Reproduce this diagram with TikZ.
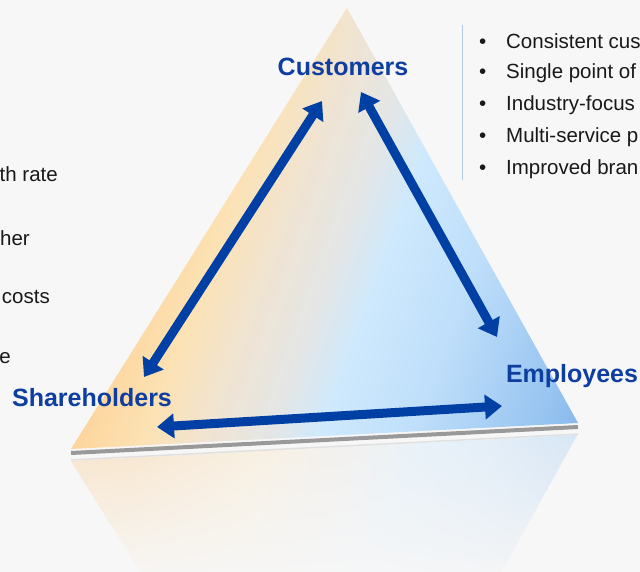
\documentclass[tikz,border=0pt]{standalone}
\usepackage{fontspec}
\setmainfont{Liberation Sans}
\usetikzlibrary{arrows.meta,calc,positioning,fadings}
\definecolor{pagebg}{RGB}{247,247,247}
\definecolor{arrowblue}{RGB}{0,64,165}
\definecolor{labelblue}{RGB}{14,62,160}
\definecolor{sepblue}{RGB}{180,200,225}
\definecolor{triA}{RGB}{252,190,112}
\definecolor{triB}{RGB}{252,198,125}
\definecolor{triC}{RGB}{253,212,155}
\definecolor{triD}{RGB}{252,226,180}
\definecolor{triE}{RGB}{240,228,210}
\definecolor{triF}{RGB}{228,230,230}
\definecolor{triG}{RGB}{206,233,253}
\definecolor{triH}{RGB}{190,222,250}
\definecolor{triI}{RGB}{150,195,240}
\definecolor{triJ}{RGB}{98,158,224}
\definecolor{triK}{RGB}{85,145,215}
\pgfdeclarehorizontalshading{trishade}{100bp}{color(0bp)=(triA); color(26bp)=(triB); color(33bp)=(triC); color(40bp)=(triD); color(46bp)=(triE); color(52bp)=(triF); color(57bp)=(triG); color(66bp)=(triH); color(78bp)=(triI); color(90bp)=(triJ); color(100bp)=(triK)}
\tikzset{%
	vertex/.style  = {text=labelblue, font=\fontsize{25}{30}\selectfont\bfseries, inner sep=0pt}, % corner label
	twoway/.style  = {arrowblue, line width=9pt, {Triangle[width=24pt,length=17pt]}-{Triangle[width=24pt,length=17pt]}},
	item/.style    = {anchor=west, font=\fontsize{20.5}{24}\selectfont, text=black!90, inner sep=0pt}, % bullet line
	cuttext/.style = {anchor=east, font=\fontsize{20.5}{24}\selectfont, text=black!90, inner sep=0pt},
	sepline/.style = {sepblue, line width=1pt},
}

\begin{document}
\begin{tikzpicture}[x=1pt,y=-1pt]
	\fill[pagebg] (0,0) rectangle (640,572);
	\useasboundingbox (0,0) rectangle (640,572);

	\coordinate (apex) at (347,8);
	\coordinate (lcorner) at (71,449);
	\coordinate (rcorner) at (578,423);
	\coordinate (lmirror) at (71,461);
	\coordinate (rmirror) at (578,435);
	\coordinate (lfoot) at (152,590);
	\coordinate (rfoot) at (492,590);

	% reflection
	\shade[shading=trishade, shading angle=-20, path fading=south, opacity=0.35]
		(lmirror) -- (rmirror) -- (rfoot) -- (lfoot) -- cycle;
	% shadow under the base
	\draw[black!40, line width=4pt] ($(lcorner)+(0,4)$) -- ($(rcorner)+(0,4)$);
	\draw[black!12, line width=1.5pt] ($(lcorner)+(0,11)$) -- ($(rcorner)+(0,11)$);
	\shade[shading=trishade, shading angle=-20] (apex) -- (lcorner) -- (rcorner) -- cycle;

	\node[vertex] (customers) at (343,67) {Customers};
	\node[vertex] (shareholders) at (92,398) {Shareholders};
	\node[vertex] (employees) at (572,376) {Employees};

	\coordinate (cstop) at (322,101);
	\coordinate (csbot) at (144,377);
	\coordinate (cetop) at (361,92);
	\coordinate (cebot) at (497,337);
	\coordinate (seleft) at (157,427);
	\coordinate (seright) at (502,406);

	\draw[twoway] (cstop) -- (csbot);
	\draw[twoway] (cetop) -- (cebot);
	\draw[twoway] (seleft) -- (seright);

	\coordinate (septop) at (462,25);
	\coordinate (sepbot) at (462,180);
	\draw[sepline] (septop) -- (sepbot);

	\node[item] (b1) at (479,41) {\makebox[27pt][l]{\textbullet}Consistent cus};
	\node[item] (b2) at (479,73) {\makebox[27pt][l]{\textbullet}Single point of};
	\node[item] (b3) at (479,105) {\makebox[27pt][l]{\textbullet}Industry-focus};
	\node[item] (b4) at (479,137) {\makebox[27pt][l]{\textbullet}Multi-service p};
	\node[item] (b5) at (479,169) {\makebox[27pt][l]{\textbullet}Improved bran};

	\node[cuttext] (l1) at (58,174) {th rate};
	\node[cuttext] (l2) at (30,238) {her};
	\node[cuttext] (l3) at (50,297) {costs};
	\node[cuttext] (l4) at (11,358) {e};
\end{tikzpicture}
\end{document}
